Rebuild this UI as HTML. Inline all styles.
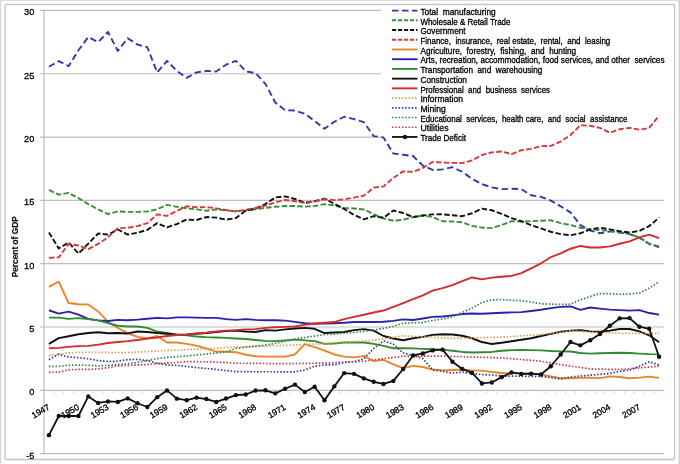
<!DOCTYPE html><html><head><meta charset="utf-8"><style>html,body{margin:0;padding:0;background:#fff;}svg{display:block;will-change:transform}</style></head><body>
<svg width="680" height="464" viewBox="0 0 680 464" font-family='"Liberation Sans", sans-serif'>
<rect x="0" y="0" width="680" height="464" fill="#fff"/>
<rect x="0" y="0" width="680" height="1" fill="#dcdcdc"/>
<rect x="0" y="0" width="1.2" height="464" fill="#d6d6d6"/>
<rect x="678.6" y="0" width="1.4" height="464" fill="#d0d0d0"/>
<rect x="5" y="4.5" width="669.6" height="455" rx="1.5" fill="none" stroke="#c4c4c4" stroke-width="1.3"/>
<line x1="40.0" y1="453.62" x2="664.0" y2="453.62" stroke="#bdbdbd" stroke-width="1.2"/>
<text x="34.3" y="458.51" font-size="9.2" text-anchor="end" fill="#000" stroke="#000" stroke-width="0.3">-5</text>
<line x1="40.0" y1="390.30" x2="664.0" y2="390.30" stroke="#bdbdbd" stroke-width="1.2"/>
<text x="34.3" y="395.20" font-size="9.2" text-anchor="end" fill="#000" stroke="#000" stroke-width="0.3">0</text>
<line x1="40.0" y1="326.99" x2="664.0" y2="326.99" stroke="#bdbdbd" stroke-width="1.2"/>
<text x="34.3" y="331.88" font-size="9.2" text-anchor="end" fill="#000" stroke="#000" stroke-width="0.3">5</text>
<line x1="40.0" y1="263.67" x2="664.0" y2="263.67" stroke="#bdbdbd" stroke-width="1.2"/>
<text x="34.3" y="268.57" font-size="9.2" text-anchor="end" fill="#000" stroke="#000" stroke-width="0.3">10</text>
<line x1="40.0" y1="200.36" x2="664.0" y2="200.36" stroke="#bdbdbd" stroke-width="1.2"/>
<text x="34.3" y="205.26" font-size="9.2" text-anchor="end" fill="#000" stroke="#000" stroke-width="0.3">15</text>
<line x1="40.0" y1="137.04" x2="381" y2="137.04" stroke="#bdbdbd" stroke-width="1.2"/>
<text x="34.3" y="141.94" font-size="9.2" text-anchor="end" fill="#000" stroke="#000" stroke-width="0.3">20</text>
<line x1="40.0" y1="73.73" x2="381" y2="73.73" stroke="#bdbdbd" stroke-width="1.2"/>
<text x="34.3" y="78.63" font-size="9.2" text-anchor="end" fill="#000" stroke="#000" stroke-width="0.3">25</text>
<line x1="40.0" y1="10.41" x2="381" y2="10.41" stroke="#bdbdbd" stroke-width="1.2"/>
<text x="34.3" y="15.31" font-size="9.2" text-anchor="end" fill="#000" stroke="#000" stroke-width="0.3">30</text>
<line x1="44.0" y1="9.81" x2="44.0" y2="454.22" stroke="#bdbdbd" stroke-width="1.2"/>
<line x1="44.00" y1="390.3" x2="44.00" y2="393.5" stroke="#c8c8c8" stroke-width="0.8"/>
<line x1="53.84" y1="390.3" x2="53.84" y2="393.5" stroke="#c8c8c8" stroke-width="0.8"/>
<line x1="63.68" y1="390.3" x2="63.68" y2="393.5" stroke="#c8c8c8" stroke-width="0.8"/>
<line x1="73.52" y1="390.3" x2="73.52" y2="393.5" stroke="#c8c8c8" stroke-width="0.8"/>
<line x1="83.37" y1="390.3" x2="83.37" y2="393.5" stroke="#c8c8c8" stroke-width="0.8"/>
<line x1="93.21" y1="390.3" x2="93.21" y2="393.5" stroke="#c8c8c8" stroke-width="0.8"/>
<line x1="103.05" y1="390.3" x2="103.05" y2="393.5" stroke="#c8c8c8" stroke-width="0.8"/>
<line x1="112.89" y1="390.3" x2="112.89" y2="393.5" stroke="#c8c8c8" stroke-width="0.8"/>
<line x1="122.73" y1="390.3" x2="122.73" y2="393.5" stroke="#c8c8c8" stroke-width="0.8"/>
<line x1="132.57" y1="390.3" x2="132.57" y2="393.5" stroke="#c8c8c8" stroke-width="0.8"/>
<line x1="142.41" y1="390.3" x2="142.41" y2="393.5" stroke="#c8c8c8" stroke-width="0.8"/>
<line x1="152.25" y1="390.3" x2="152.25" y2="393.5" stroke="#c8c8c8" stroke-width="0.8"/>
<line x1="162.10" y1="390.3" x2="162.10" y2="393.5" stroke="#c8c8c8" stroke-width="0.8"/>
<line x1="171.94" y1="390.3" x2="171.94" y2="393.5" stroke="#c8c8c8" stroke-width="0.8"/>
<line x1="181.78" y1="390.3" x2="181.78" y2="393.5" stroke="#c8c8c8" stroke-width="0.8"/>
<line x1="191.62" y1="390.3" x2="191.62" y2="393.5" stroke="#c8c8c8" stroke-width="0.8"/>
<line x1="201.46" y1="390.3" x2="201.46" y2="393.5" stroke="#c8c8c8" stroke-width="0.8"/>
<line x1="211.30" y1="390.3" x2="211.30" y2="393.5" stroke="#c8c8c8" stroke-width="0.8"/>
<line x1="221.14" y1="390.3" x2="221.14" y2="393.5" stroke="#c8c8c8" stroke-width="0.8"/>
<line x1="230.98" y1="390.3" x2="230.98" y2="393.5" stroke="#c8c8c8" stroke-width="0.8"/>
<line x1="240.83" y1="390.3" x2="240.83" y2="393.5" stroke="#c8c8c8" stroke-width="0.8"/>
<line x1="250.67" y1="390.3" x2="250.67" y2="393.5" stroke="#c8c8c8" stroke-width="0.8"/>
<line x1="260.51" y1="390.3" x2="260.51" y2="393.5" stroke="#c8c8c8" stroke-width="0.8"/>
<line x1="270.35" y1="390.3" x2="270.35" y2="393.5" stroke="#c8c8c8" stroke-width="0.8"/>
<line x1="280.19" y1="390.3" x2="280.19" y2="393.5" stroke="#c8c8c8" stroke-width="0.8"/>
<line x1="290.03" y1="390.3" x2="290.03" y2="393.5" stroke="#c8c8c8" stroke-width="0.8"/>
<line x1="299.87" y1="390.3" x2="299.87" y2="393.5" stroke="#c8c8c8" stroke-width="0.8"/>
<line x1="309.71" y1="390.3" x2="309.71" y2="393.5" stroke="#c8c8c8" stroke-width="0.8"/>
<line x1="319.56" y1="390.3" x2="319.56" y2="393.5" stroke="#c8c8c8" stroke-width="0.8"/>
<line x1="329.40" y1="390.3" x2="329.40" y2="393.5" stroke="#c8c8c8" stroke-width="0.8"/>
<line x1="339.24" y1="390.3" x2="339.24" y2="393.5" stroke="#c8c8c8" stroke-width="0.8"/>
<line x1="349.08" y1="390.3" x2="349.08" y2="393.5" stroke="#c8c8c8" stroke-width="0.8"/>
<line x1="358.92" y1="390.3" x2="358.92" y2="393.5" stroke="#c8c8c8" stroke-width="0.8"/>
<line x1="368.76" y1="390.3" x2="368.76" y2="393.5" stroke="#c8c8c8" stroke-width="0.8"/>
<line x1="378.60" y1="390.3" x2="378.60" y2="393.5" stroke="#c8c8c8" stroke-width="0.8"/>
<line x1="388.44" y1="390.3" x2="388.44" y2="393.5" stroke="#c8c8c8" stroke-width="0.8"/>
<line x1="398.29" y1="390.3" x2="398.29" y2="393.5" stroke="#c8c8c8" stroke-width="0.8"/>
<line x1="408.13" y1="390.3" x2="408.13" y2="393.5" stroke="#c8c8c8" stroke-width="0.8"/>
<line x1="417.97" y1="390.3" x2="417.97" y2="393.5" stroke="#c8c8c8" stroke-width="0.8"/>
<line x1="427.81" y1="390.3" x2="427.81" y2="393.5" stroke="#c8c8c8" stroke-width="0.8"/>
<line x1="437.65" y1="390.3" x2="437.65" y2="393.5" stroke="#c8c8c8" stroke-width="0.8"/>
<line x1="447.49" y1="390.3" x2="447.49" y2="393.5" stroke="#c8c8c8" stroke-width="0.8"/>
<line x1="457.33" y1="390.3" x2="457.33" y2="393.5" stroke="#c8c8c8" stroke-width="0.8"/>
<line x1="467.17" y1="390.3" x2="467.17" y2="393.5" stroke="#c8c8c8" stroke-width="0.8"/>
<line x1="477.02" y1="390.3" x2="477.02" y2="393.5" stroke="#c8c8c8" stroke-width="0.8"/>
<line x1="486.86" y1="390.3" x2="486.86" y2="393.5" stroke="#c8c8c8" stroke-width="0.8"/>
<line x1="496.70" y1="390.3" x2="496.70" y2="393.5" stroke="#c8c8c8" stroke-width="0.8"/>
<line x1="506.54" y1="390.3" x2="506.54" y2="393.5" stroke="#c8c8c8" stroke-width="0.8"/>
<line x1="516.38" y1="390.3" x2="516.38" y2="393.5" stroke="#c8c8c8" stroke-width="0.8"/>
<line x1="526.22" y1="390.3" x2="526.22" y2="393.5" stroke="#c8c8c8" stroke-width="0.8"/>
<line x1="536.06" y1="390.3" x2="536.06" y2="393.5" stroke="#c8c8c8" stroke-width="0.8"/>
<line x1="545.90" y1="390.3" x2="545.90" y2="393.5" stroke="#c8c8c8" stroke-width="0.8"/>
<line x1="555.75" y1="390.3" x2="555.75" y2="393.5" stroke="#c8c8c8" stroke-width="0.8"/>
<line x1="565.59" y1="390.3" x2="565.59" y2="393.5" stroke="#c8c8c8" stroke-width="0.8"/>
<line x1="575.43" y1="390.3" x2="575.43" y2="393.5" stroke="#c8c8c8" stroke-width="0.8"/>
<line x1="585.27" y1="390.3" x2="585.27" y2="393.5" stroke="#c8c8c8" stroke-width="0.8"/>
<line x1="595.11" y1="390.3" x2="595.11" y2="393.5" stroke="#c8c8c8" stroke-width="0.8"/>
<line x1="604.95" y1="390.3" x2="604.95" y2="393.5" stroke="#c8c8c8" stroke-width="0.8"/>
<line x1="614.79" y1="390.3" x2="614.79" y2="393.5" stroke="#c8c8c8" stroke-width="0.8"/>
<line x1="624.63" y1="390.3" x2="624.63" y2="393.5" stroke="#c8c8c8" stroke-width="0.8"/>
<line x1="634.48" y1="390.3" x2="634.48" y2="393.5" stroke="#c8c8c8" stroke-width="0.8"/>
<line x1="644.32" y1="390.3" x2="644.32" y2="393.5" stroke="#c8c8c8" stroke-width="0.8"/>
<line x1="654.16" y1="390.3" x2="654.16" y2="393.5" stroke="#c8c8c8" stroke-width="0.8"/>
<line x1="664.00" y1="390.3" x2="664.00" y2="393.5" stroke="#c8c8c8" stroke-width="0.8"/>
<text transform="translate(50.32,408.90) rotate(-30)" font-size="8.6" text-anchor="end" fill="#000" stroke="#000" stroke-width="0.3">1947</text>
<text transform="translate(79.84,408.90) rotate(-30)" font-size="8.6" text-anchor="end" fill="#000" stroke="#000" stroke-width="0.3">1950</text>
<text transform="translate(109.37,408.90) rotate(-30)" font-size="8.6" text-anchor="end" fill="#000" stroke="#000" stroke-width="0.3">1953</text>
<text transform="translate(138.89,408.90) rotate(-30)" font-size="8.6" text-anchor="end" fill="#000" stroke="#000" stroke-width="0.3">1956</text>
<text transform="translate(168.42,408.90) rotate(-30)" font-size="8.6" text-anchor="end" fill="#000" stroke="#000" stroke-width="0.3">1959</text>
<text transform="translate(197.94,408.90) rotate(-30)" font-size="8.6" text-anchor="end" fill="#000" stroke="#000" stroke-width="0.3">1962</text>
<text transform="translate(227.46,408.90) rotate(-30)" font-size="8.6" text-anchor="end" fill="#000" stroke="#000" stroke-width="0.3">1965</text>
<text transform="translate(256.99,408.90) rotate(-30)" font-size="8.6" text-anchor="end" fill="#000" stroke="#000" stroke-width="0.3">1968</text>
<text transform="translate(286.51,408.90) rotate(-30)" font-size="8.6" text-anchor="end" fill="#000" stroke="#000" stroke-width="0.3">1971</text>
<text transform="translate(316.03,408.90) rotate(-30)" font-size="8.6" text-anchor="end" fill="#000" stroke="#000" stroke-width="0.3">1974</text>
<text transform="translate(345.56,408.90) rotate(-30)" font-size="8.6" text-anchor="end" fill="#000" stroke="#000" stroke-width="0.3">1977</text>
<text transform="translate(375.08,408.90) rotate(-30)" font-size="8.6" text-anchor="end" fill="#000" stroke="#000" stroke-width="0.3">1980</text>
<text transform="translate(404.61,408.90) rotate(-30)" font-size="8.6" text-anchor="end" fill="#000" stroke="#000" stroke-width="0.3">1983</text>
<text transform="translate(434.13,408.90) rotate(-30)" font-size="8.6" text-anchor="end" fill="#000" stroke="#000" stroke-width="0.3">1986</text>
<text transform="translate(463.65,408.90) rotate(-30)" font-size="8.6" text-anchor="end" fill="#000" stroke="#000" stroke-width="0.3">1989</text>
<text transform="translate(493.18,408.90) rotate(-30)" font-size="8.6" text-anchor="end" fill="#000" stroke="#000" stroke-width="0.3">1992</text>
<text transform="translate(522.70,408.90) rotate(-30)" font-size="8.6" text-anchor="end" fill="#000" stroke="#000" stroke-width="0.3">1995</text>
<text transform="translate(552.23,408.90) rotate(-30)" font-size="8.6" text-anchor="end" fill="#000" stroke="#000" stroke-width="0.3">1998</text>
<text transform="translate(581.75,408.90) rotate(-30)" font-size="8.6" text-anchor="end" fill="#000" stroke="#000" stroke-width="0.3">2001</text>
<text transform="translate(611.27,408.90) rotate(-30)" font-size="8.6" text-anchor="end" fill="#000" stroke="#000" stroke-width="0.3">2004</text>
<text transform="translate(640.80,408.90) rotate(-30)" font-size="8.6" text-anchor="end" fill="#000" stroke="#000" stroke-width="0.3">2007</text>
<text transform="translate(17.6,246.8) rotate(-90)" font-size="8.4" font-weight="bold" text-anchor="middle" textLength="61" lengthAdjust="spacingAndGlyphs" fill="#111" stroke="#111" stroke-width="0.2">Percent of GDP</text>
<polyline points="48.92,66.76 58.76,61.06 68.60,66.13 78.44,50.30 88.29,37.00 98.13,42.07 107.97,31.94 117.81,50.93 127.65,38.27 137.49,44.60 147.33,47.13 157.17,72.46 167.02,60.81 176.86,70.94 186.70,77.90 196.54,72.33 206.38,70.94 216.22,71.45 226.06,64.73 235.90,60.81 245.75,71.19 255.59,73.22 265.43,83.86 275.27,102.47 285.11,110.32 294.95,110.57 304.79,113.74 314.63,120.96 324.48,128.81 334.32,121.84 344.16,116.78 354.00,119.06 363.84,122.10 373.68,136.15 383.52,137.42 393.37,153.50 403.21,154.77 413.05,156.03 422.89,165.66 432.73,169.96 442.57,169.33 452.41,167.18 462.25,171.74 472.10,178.83 481.94,184.15 491.78,187.31 501.62,189.08 511.46,188.71 521.30,189.08 531.14,195.29 540.98,196.81 550.83,200.61 560.67,206.31 570.51,212.38 580.35,225.05 590.19,230.49 600.03,233.28 609.87,231.38 619.71,232.65 629.56,234.17 639.40,237.71 649.24,244.04 659.08,247.21" fill="none" stroke="#3535b0" stroke-width="1.9" stroke-linejoin="round" stroke-dasharray="6.5 3.5"/>
<polyline points="48.92,189.97 58.76,194.66 68.60,192.88 78.44,198.08 88.29,204.15 98.13,209.35 107.97,214.03 117.81,211.37 127.65,211.88 137.49,211.88 147.33,211.50 157.17,209.35 167.02,204.91 176.86,206.81 186.70,208.46 196.54,209.35 206.38,210.74 216.22,209.35 226.06,210.49 235.90,211.12 245.75,210.49 255.59,209.22 265.43,207.83 275.27,206.81 285.11,206.05 294.95,206.05 304.79,206.69 314.63,206.05 324.48,204.15 334.32,205.29 344.16,207.95 354.00,208.46 363.84,209.47 373.68,214.16 383.52,218.46 393.37,220.74 403.21,219.73 413.05,217.07 422.89,215.55 432.73,217.07 442.57,221.25 452.41,221.50 462.25,222.26 472.10,225.93 481.94,227.58 491.78,228.09 501.62,225.05 511.46,221.25 521.30,221.50 531.14,221.25 540.98,220.74 550.83,220.24 560.67,223.15 570.51,225.05 580.35,227.71 590.19,229.35 600.03,230.11 609.87,230.87 619.71,232.27 629.56,233.79 639.40,237.46 649.24,243.79 659.08,246.32" fill="none" stroke="#3a8f3a" stroke-width="1.9" stroke-linejoin="round" stroke-dasharray="5.5 2.3"/>
<polyline points="48.92,232.39 58.76,248.47 68.60,242.40 78.44,253.54 88.29,243.66 98.13,233.53 107.97,234.67 117.81,229.48 127.65,234.55 137.49,232.77 147.33,229.86 157.17,223.15 167.02,227.45 176.86,224.03 186.70,219.60 196.54,219.98 206.38,217.07 216.22,217.58 226.06,219.60 235.90,218.08 245.75,210.74 255.59,208.46 265.43,204.15 275.27,197.44 285.11,196.43 294.95,198.96 304.79,202.89 314.63,201.24 324.48,198.71 334.32,203.77 344.16,208.97 354.00,214.92 363.84,219.35 373.68,216.18 383.52,217.83 393.37,210.49 403.21,213.02 413.05,217.07 422.89,215.55 432.73,214.41 442.57,214.28 452.41,215.30 462.25,216.18 472.10,213.27 481.94,208.59 491.78,210.23 501.62,213.90 511.46,218.08 521.30,221.25 531.14,225.05 540.98,228.47 550.83,231.76 560.67,234.17 570.51,235.18 580.35,233.28 590.19,229.35 600.03,227.71 609.87,229.35 619.71,231.25 629.56,232.52 639.40,230.87 649.24,226.06 659.08,217.58" fill="none" stroke="#111111" stroke-width="1.9" stroke-linejoin="round" stroke-dasharray="5.5 2.3"/>
<polyline points="48.92,257.85 58.76,257.34 68.60,244.04 78.44,245.44 88.29,249.23 98.13,243.92 107.97,237.33 117.81,228.21 127.65,227.83 137.49,226.06 147.33,223.15 157.17,214.41 167.02,215.93 176.86,210.74 186.70,206.31 196.54,207.32 206.38,207.07 216.22,208.33 226.06,209.98 235.90,211.50 245.75,209.73 255.59,207.83 265.43,205.67 275.27,202.38 285.11,199.98 294.95,201.24 304.79,202.89 314.63,201.62 324.48,199.09 334.32,200.10 344.16,199.34 354.00,197.57 363.84,195.67 373.68,187.57 383.52,186.43 393.37,177.81 403.21,171.36 413.05,171.86 422.89,167.94 432.73,161.86 442.57,162.62 452.41,162.87 462.25,163.13 472.10,160.34 481.94,155.02 491.78,152.36 501.62,151.48 511.46,154.14 521.30,150.21 531.14,148.82 540.98,146.16 550.83,145.90 560.67,141.60 570.51,135.01 580.35,125.26 590.19,125.77 600.03,127.92 609.87,132.73 619.71,129.19 629.56,127.92 639.40,129.70 649.24,127.92 659.08,115.64" fill="none" stroke="#d9383c" stroke-width="1.9" stroke-linejoin="round" stroke-dasharray="5.5 2.3"/>
<polyline points="48.92,286.84 58.76,281.65 68.60,303.05 78.44,304.19 88.29,304.57 98.13,311.41 107.97,321.67 117.81,328.00 127.65,333.06 137.49,336.86 147.33,338.51 157.17,335.98 167.02,342.56 176.86,342.56 186.70,343.83 196.54,345.60 206.38,348.51 216.22,351.55 226.06,351.80 235.90,352.18 245.75,354.72 255.59,356.24 265.43,356.62 275.27,356.62 285.11,356.62 294.95,354.46 304.79,344.08 314.63,347.12 324.48,350.66 334.32,354.46 344.16,356.62 354.00,357.38 363.84,355.86 373.68,361.18 383.52,359.91 393.37,364.34 403.21,368.14 413.05,365.86 422.89,367.00 432.73,369.53 442.57,370.42 452.41,370.04 462.25,369.53 472.10,370.42 481.94,370.67 491.78,371.94 501.62,372.95 511.46,373.20 521.30,373.20 531.14,373.71 540.98,374.47 550.83,376.37 560.67,378.27 570.51,378.27 580.35,377.89 590.19,377.64 600.03,378.14 609.87,376.37 619.71,377.00 629.56,378.27 639.40,377.64 649.24,376.62 659.08,377.89" fill="none" stroke="#e8842c" stroke-width="1.9" stroke-linejoin="round"/>
<polyline points="48.92,310.27 58.76,313.69 68.60,311.66 78.44,314.58 88.29,318.88 98.13,320.40 107.97,321.03 117.81,319.89 127.65,320.27 137.49,319.64 147.33,318.75 157.17,317.87 167.02,318.37 176.86,317.36 186.70,317.36 196.54,317.61 206.38,317.87 216.22,317.87 226.06,319.13 235.90,319.89 245.75,319.13 255.59,319.89 265.43,320.27 275.27,320.27 285.11,320.65 294.95,321.92 304.79,323.19 314.63,323.82 324.48,323.44 334.32,323.19 344.16,322.81 354.00,322.05 363.84,322.05 373.68,322.05 383.52,321.79 393.37,320.91 403.21,319.39 413.05,320.02 422.89,318.50 432.73,316.85 442.57,316.47 452.41,315.34 462.25,314.07 472.10,313.56 481.94,313.69 491.78,313.31 501.62,312.80 511.46,312.42 521.30,312.17 531.14,311.03 540.98,309.76 550.83,308.12 560.67,306.85 570.51,306.47 580.35,309.89 590.19,307.48 600.03,308.62 609.87,309.64 619.71,310.14 629.56,310.65 639.40,310.14 649.24,313.06 659.08,314.58" fill="none" stroke="#2c22aa" stroke-width="1.9" stroke-linejoin="round"/>
<polyline points="48.92,317.61 58.76,317.61 68.60,318.88 78.44,318.12 88.29,319.13 98.13,320.40 107.97,323.06 117.81,325.72 127.65,326.48 137.49,326.48 147.33,327.87 157.17,331.54 167.02,333.06 176.86,334.58 186.70,335.34 196.54,336.48 206.38,337.12 216.22,337.50 226.06,337.88 235.90,338.51 245.75,339.01 255.59,340.03 265.43,340.91 275.27,341.17 285.11,340.41 294.95,339.65 304.79,340.41 314.63,341.17 324.48,343.83 334.32,343.45 344.16,342.56 354.00,342.56 363.84,342.56 373.68,343.83 383.52,345.85 393.37,348.26 403.21,348.13 413.05,348.39 422.89,348.89 432.73,349.27 442.57,349.65 452.41,350.79 462.25,351.93 472.10,352.56 481.94,352.31 491.78,351.93 501.62,350.79 511.46,350.16 521.30,349.91 531.14,350.16 540.98,350.41 550.83,351.04 560.67,351.42 570.51,351.55 580.35,352.94 590.19,353.58 600.03,353.32 609.87,352.94 619.71,352.69 629.56,352.94 639.40,353.58 649.24,354.08 659.08,354.34" fill="none" stroke="#2f8c2f" stroke-width="1.9" stroke-linejoin="round"/>
<polyline points="48.92,343.83 58.76,338.13 68.60,336.23 78.44,334.20 88.29,332.94 98.13,332.30 107.97,333.19 117.81,333.06 127.65,333.44 137.49,331.54 147.33,332.05 157.17,333.06 167.02,333.82 176.86,334.58 186.70,334.33 196.54,333.70 206.38,333.06 216.22,332.05 226.06,331.16 235.90,330.66 245.75,331.54 255.59,332.05 265.43,330.15 275.27,330.66 285.11,329.39 294.95,328.50 304.79,327.87 314.63,328.76 324.48,333.06 334.32,332.43 344.16,332.05 354.00,330.15 363.84,329.14 373.68,330.66 383.52,335.98 393.37,338.51 403.21,340.28 413.05,338.26 422.89,336.86 432.73,334.84 442.57,334.20 452.41,334.46 462.25,335.72 472.10,338.26 481.94,342.05 491.78,343.95 501.62,342.81 511.46,341.29 521.30,339.77 531.14,338.26 540.98,335.98 550.83,333.82 560.67,331.80 570.51,330.66 580.35,330.15 590.19,331.42 600.03,331.80 609.87,330.66 619.71,329.01 629.56,329.01 639.40,331.42 649.24,335.34 659.08,342.31" fill="none" stroke="#111111" stroke-width="1.9" stroke-linejoin="round"/>
<polyline points="48.92,348.26 58.76,347.88 68.60,346.87 78.44,346.11 88.29,345.85 98.13,344.59 107.97,342.94 117.81,341.93 127.65,341.17 137.49,340.03 147.33,338.51 157.17,337.50 167.02,335.98 176.86,334.96 186.70,334.58 196.54,333.44 206.38,332.68 216.22,331.54 226.06,330.66 235.90,330.15 245.75,329.39 255.59,329.14 265.43,327.87 275.27,327.24 285.11,326.86 294.95,326.48 304.79,324.83 314.63,323.44 324.48,322.81 334.32,322.05 344.16,319.13 354.00,316.85 363.84,314.70 373.68,312.55 383.52,310.52 393.37,306.98 403.21,303.18 413.05,299.13 422.89,295.45 432.73,290.64 442.57,288.11 452.41,285.07 462.25,281.14 472.10,277.47 481.94,279.37 491.78,277.60 501.62,276.71 511.46,275.95 521.30,273.04 531.14,268.36 540.98,263.29 550.83,257.21 560.67,253.41 570.51,248.73 580.35,245.94 590.19,247.46 600.03,247.46 609.87,246.32 619.71,243.79 629.56,241.38 639.40,237.46 649.24,234.67 659.08,238.22" fill="none" stroke="#d22c2c" stroke-width="1.9" stroke-linejoin="round"/>
<polyline points="48.92,355.48 58.76,354.21 68.60,352.94 78.44,352.31 88.29,352.36 98.13,352.41 107.97,352.46 117.81,352.51 127.65,352.56 137.49,352.06 147.33,351.55 157.17,351.04 167.02,350.54 176.86,350.09 186.70,349.65 196.54,349.21 206.38,348.77 216.22,348.17 226.06,347.58 235.90,346.99 245.75,346.67 255.59,346.34 265.43,346.02 275.27,345.69 285.11,345.36 294.95,345.04 304.79,344.71 314.63,344.10 324.48,343.48 334.32,342.87 344.16,342.25 354.00,341.64 363.84,341.02 373.68,340.41 383.52,338.89 393.37,337.37 403.21,335.85 413.05,336.36 422.89,336.86 432.73,337.37 442.57,337.88 452.41,338.38 462.25,338.13 472.10,337.88 481.94,337.62 491.78,337.37 501.62,337.12 511.46,336.48 521.30,335.85 531.14,335.22 540.98,334.58 550.83,333.32 560.67,332.05 570.51,330.78 580.35,331.42 590.19,332.05 600.03,332.47 609.87,332.89 619.71,333.32 629.56,333.32 639.40,333.32 649.24,333.32 659.08,333.32" fill="none" stroke="#d8a050" stroke-width="1.7" stroke-linejoin="round" stroke-dasharray="1.5 1.8"/>
<polyline points="48.92,359.66 58.76,354.34 68.60,357.00 78.44,357.63 88.29,358.77 98.13,360.54 107.97,361.55 117.81,361.18 127.65,359.66 137.49,359.40 147.33,360.54 157.17,363.20 167.02,364.97 176.86,365.35 186.70,366.37 196.54,367.63 206.38,368.52 216.22,369.41 226.06,370.55 235.90,371.69 245.75,371.71 255.59,371.73 265.43,371.75 275.27,371.77 285.11,371.79 294.95,371.81 304.79,370.04 314.63,366.24 324.48,364.97 334.32,364.97 344.16,362.44 354.00,361.81 363.84,358.64 373.68,348.51 383.52,340.91 393.37,344.08 403.21,352.94 413.05,355.48 422.89,358.64 432.73,370.04 442.57,371.31 452.41,373.20 462.25,371.94 472.10,373.84 481.94,374.47 491.78,375.10 501.62,375.99 511.46,376.12 521.30,376.24 531.14,376.37 540.98,376.50 550.83,377.64 560.67,379.03 570.51,377.00 580.35,376.12 590.19,375.23 600.03,374.34 609.87,373.46 619.71,371.31 629.56,370.04 639.40,366.24 649.24,361.81 659.08,364.97" fill="none" stroke="#35359a" stroke-width="1.7" stroke-linejoin="round" stroke-dasharray="1.5 1.8"/>
<polyline points="48.92,366.37 58.76,366.37 68.60,365.35 78.44,364.97 88.29,365.35 98.13,365.86 107.97,365.35 117.81,364.59 127.65,363.71 137.49,362.44 147.33,360.54 157.17,358.64 167.02,357.38 176.86,356.62 186.70,355.86 196.54,354.97 206.38,354.08 216.22,352.94 226.06,351.93 235.90,348.51 245.75,347.25 255.59,346.17 265.43,345.09 275.27,343.45 285.11,341.23 294.95,339.01 304.79,337.54 314.63,336.06 324.48,334.58 334.32,333.87 344.16,333.15 354.00,332.43 363.84,331.29 373.68,330.15 383.52,328.31 393.37,326.48 403.21,323.19 413.05,322.87 422.89,322.55 432.73,320.40 442.57,319.01 452.41,316.85 462.25,312.42 472.10,307.99 481.94,302.42 491.78,300.01 501.62,299.51 511.46,300.27 521.30,300.65 531.14,302.04 540.98,303.81 550.83,304.06 560.67,304.44 570.51,304.19 580.35,299.76 590.19,296.59 600.03,293.55 609.87,293.55 619.71,294.31 629.56,293.93 639.40,293.05 649.24,288.11 659.08,281.78" fill="none" stroke="#33804f" stroke-width="1.7" stroke-linejoin="round" stroke-dasharray="1.5 1.8"/>
<polyline points="48.92,372.45 58.76,372.07 68.60,369.91 78.44,369.41 88.29,369.41 98.13,368.90 107.97,367.63 117.81,365.86 127.65,365.35 137.49,364.97 147.33,364.59 157.17,363.71 167.02,362.95 176.86,362.44 186.70,361.55 196.54,361.68 206.38,361.81 216.22,362.19 226.06,362.44 235.90,363.20 245.75,363.30 255.59,363.40 265.43,363.51 275.27,363.61 285.11,363.71 294.95,363.55 304.79,363.39 314.63,363.23 324.48,363.07 334.32,362.60 344.16,362.12 354.00,361.65 363.84,361.18 373.68,359.91 383.52,358.64 393.37,357.38 403.21,356.11 413.05,356.11 422.89,356.11 432.73,356.11 442.57,356.11 452.41,356.41 462.25,356.70 472.10,357.00 481.94,357.29 491.78,357.59 501.62,357.88 511.46,358.71 521.30,359.53 531.14,360.35 540.98,361.18 550.83,362.95 560.67,364.72 570.51,366.11 580.35,367.51 590.19,368.90 600.03,369.11 609.87,369.32 619.71,369.53 629.56,368.71 639.40,367.89 649.24,367.06 659.08,366.24" fill="none" stroke="#c83450" stroke-width="1.7" stroke-linejoin="round" stroke-dasharray="1.5 1.8"/>
<polyline points="48.92,435.13 58.76,416.01 68.60,416.01 78.44,416.01 88.29,396.38 98.13,402.96 107.97,401.44 117.81,401.95 127.65,398.40 137.49,403.22 147.33,407.02 157.17,397.14 167.02,390.43 176.86,398.66 186.70,400.18 196.54,397.64 206.38,399.04 216.22,401.95 226.06,398.53 235.90,395.11 245.75,394.48 255.59,390.55 265.43,390.30 275.27,393.34 285.11,388.78 294.95,384.60 304.79,392.07 314.63,386.75 324.48,400.30 334.32,386.37 344.16,373.08 354.00,373.84 363.84,378.40 373.68,381.82 383.52,383.97 393.37,380.93 403.21,369.03 413.05,355.48 422.89,353.45 432.73,350.41 442.57,349.65 452.41,361.68 462.25,368.90 472.10,372.95 481.94,383.46 491.78,382.45 501.62,377.13 511.46,372.45 521.30,373.96 531.14,373.71 540.98,374.47 550.83,366.24 560.67,354.46 570.51,342.05 580.35,345.35 590.19,340.28 600.03,333.95 609.87,325.72 619.71,318.37 629.56,318.12 639.40,326.73 649.24,328.76 659.08,356.74" fill="none" stroke="#111111" stroke-width="1.8" stroke-linejoin="round"/>
<circle cx="48.92" cy="435.13" r="2.2" fill="#111111"/>
<circle cx="58.76" cy="416.01" r="2.2" fill="#111111"/>
<circle cx="68.60" cy="416.01" r="2.2" fill="#111111"/>
<circle cx="78.44" cy="416.01" r="2.2" fill="#111111"/>
<circle cx="88.29" cy="396.38" r="2.2" fill="#111111"/>
<circle cx="98.13" cy="402.96" r="2.2" fill="#111111"/>
<circle cx="107.97" cy="401.44" r="2.2" fill="#111111"/>
<circle cx="117.81" cy="401.95" r="2.2" fill="#111111"/>
<circle cx="127.65" cy="398.40" r="2.2" fill="#111111"/>
<circle cx="137.49" cy="403.22" r="2.2" fill="#111111"/>
<circle cx="147.33" cy="407.02" r="2.2" fill="#111111"/>
<circle cx="157.17" cy="397.14" r="2.2" fill="#111111"/>
<circle cx="167.02" cy="390.43" r="2.2" fill="#111111"/>
<circle cx="176.86" cy="398.66" r="2.2" fill="#111111"/>
<circle cx="186.70" cy="400.18" r="2.2" fill="#111111"/>
<circle cx="196.54" cy="397.64" r="2.2" fill="#111111"/>
<circle cx="206.38" cy="399.04" r="2.2" fill="#111111"/>
<circle cx="216.22" cy="401.95" r="2.2" fill="#111111"/>
<circle cx="226.06" cy="398.53" r="2.2" fill="#111111"/>
<circle cx="235.90" cy="395.11" r="2.2" fill="#111111"/>
<circle cx="245.75" cy="394.48" r="2.2" fill="#111111"/>
<circle cx="255.59" cy="390.55" r="2.2" fill="#111111"/>
<circle cx="265.43" cy="390.30" r="2.2" fill="#111111"/>
<circle cx="275.27" cy="393.34" r="2.2" fill="#111111"/>
<circle cx="285.11" cy="388.78" r="2.2" fill="#111111"/>
<circle cx="294.95" cy="384.60" r="2.2" fill="#111111"/>
<circle cx="304.79" cy="392.07" r="2.2" fill="#111111"/>
<circle cx="314.63" cy="386.75" r="2.2" fill="#111111"/>
<circle cx="324.48" cy="400.30" r="2.2" fill="#111111"/>
<circle cx="334.32" cy="386.37" r="2.2" fill="#111111"/>
<circle cx="344.16" cy="373.08" r="2.2" fill="#111111"/>
<circle cx="354.00" cy="373.84" r="2.2" fill="#111111"/>
<circle cx="363.84" cy="378.40" r="2.2" fill="#111111"/>
<circle cx="373.68" cy="381.82" r="2.2" fill="#111111"/>
<circle cx="383.52" cy="383.97" r="2.2" fill="#111111"/>
<circle cx="393.37" cy="380.93" r="2.2" fill="#111111"/>
<circle cx="403.21" cy="369.03" r="2.2" fill="#111111"/>
<circle cx="413.05" cy="355.48" r="2.2" fill="#111111"/>
<circle cx="422.89" cy="353.45" r="2.2" fill="#111111"/>
<circle cx="432.73" cy="350.41" r="2.2" fill="#111111"/>
<circle cx="442.57" cy="349.65" r="2.2" fill="#111111"/>
<circle cx="452.41" cy="361.68" r="2.2" fill="#111111"/>
<circle cx="462.25" cy="368.90" r="2.2" fill="#111111"/>
<circle cx="472.10" cy="372.95" r="2.2" fill="#111111"/>
<circle cx="481.94" cy="383.46" r="2.2" fill="#111111"/>
<circle cx="491.78" cy="382.45" r="2.2" fill="#111111"/>
<circle cx="501.62" cy="377.13" r="2.2" fill="#111111"/>
<circle cx="511.46" cy="372.45" r="2.2" fill="#111111"/>
<circle cx="521.30" cy="373.96" r="2.2" fill="#111111"/>
<circle cx="531.14" cy="373.71" r="2.2" fill="#111111"/>
<circle cx="540.98" cy="374.47" r="2.2" fill="#111111"/>
<circle cx="550.83" cy="366.24" r="2.2" fill="#111111"/>
<circle cx="560.67" cy="354.46" r="2.2" fill="#111111"/>
<circle cx="570.51" cy="342.05" r="2.2" fill="#111111"/>
<circle cx="580.35" cy="345.35" r="2.2" fill="#111111"/>
<circle cx="590.19" cy="340.28" r="2.2" fill="#111111"/>
<circle cx="600.03" cy="333.95" r="2.2" fill="#111111"/>
<circle cx="609.87" cy="325.72" r="2.2" fill="#111111"/>
<circle cx="619.71" cy="318.37" r="2.2" fill="#111111"/>
<circle cx="629.56" cy="318.12" r="2.2" fill="#111111"/>
<circle cx="639.40" cy="326.73" r="2.2" fill="#111111"/>
<circle cx="649.24" cy="328.76" r="2.2" fill="#111111"/>
<circle cx="659.08" cy="356.74" r="2.2" fill="#111111"/>
<line x1="392" y1="10.60" x2="417.5" y2="10.60" stroke="#3535b0" stroke-width="1.9" stroke-dasharray="6.5 3.5"/>
<text x="420.4" y="14.80" font-size="9.5" fill="#000" stroke="#000" stroke-width="0.32" textLength="75.3" lengthAdjust="spacingAndGlyphs" xml:space="preserve">Total  manufacturing</text>
<line x1="392" y1="20.32" x2="417.5" y2="20.32" stroke="#3a8f3a" stroke-width="1.9" stroke-dasharray="4.2 1.8"/>
<text x="420.4" y="24.52" font-size="9.5" fill="#000" stroke="#000" stroke-width="0.32" textLength="90.1" lengthAdjust="spacingAndGlyphs" xml:space="preserve">Wholesale &amp; Retail Trade</text>
<line x1="392" y1="30.04" x2="417.5" y2="30.04" stroke="#111111" stroke-width="1.9" stroke-dasharray="4.2 1.8"/>
<text x="420.4" y="34.24" font-size="9.5" fill="#000" stroke="#000" stroke-width="0.32" textLength="45.2" lengthAdjust="spacingAndGlyphs" xml:space="preserve">Government</text>
<line x1="392" y1="39.76" x2="417.5" y2="39.76" stroke="#d9383c" stroke-width="1.9" stroke-dasharray="4.2 1.8"/>
<text x="420.4" y="43.96" font-size="9.5" fill="#000" stroke="#000" stroke-width="0.32" textLength="189.9" lengthAdjust="spacingAndGlyphs" xml:space="preserve">Finance,  insurance,  real estate,  rental,  and  leasing</text>
<line x1="392" y1="49.48" x2="417.5" y2="49.48" stroke="#e8842c" stroke-width="1.9"/>
<text x="420.4" y="53.68" font-size="9.5" fill="#000" stroke="#000" stroke-width="0.32" textLength="155.8" lengthAdjust="spacingAndGlyphs" xml:space="preserve">Agriculture,  forestry,  fishing,  and  hunting</text>
<line x1="392" y1="59.20" x2="417.5" y2="59.20" stroke="#2c22aa" stroke-width="1.9"/>
<text x="420.4" y="63.40" font-size="9.5" fill="#000" stroke="#000" stroke-width="0.32" textLength="244.1" lengthAdjust="spacingAndGlyphs" xml:space="preserve">Arts, recreation, accommodation, food services, and other  services</text>
<line x1="392" y1="68.92" x2="417.5" y2="68.92" stroke="#2f8c2f" stroke-width="1.9"/>
<text x="420.4" y="73.12" font-size="9.5" fill="#000" stroke="#000" stroke-width="0.32" textLength="121.9" lengthAdjust="spacingAndGlyphs" xml:space="preserve">Transportation  and  warehousing</text>
<line x1="392" y1="78.64" x2="417.5" y2="78.64" stroke="#111111" stroke-width="1.9"/>
<text x="420.4" y="82.84" font-size="9.5" fill="#000" stroke="#000" stroke-width="0.32" textLength="46.6" lengthAdjust="spacingAndGlyphs" xml:space="preserve">Construction</text>
<line x1="392" y1="88.36" x2="417.5" y2="88.36" stroke="#d22c2c" stroke-width="1.9"/>
<text x="420.4" y="92.56" font-size="9.5" fill="#000" stroke="#000" stroke-width="0.32" textLength="129.6" lengthAdjust="spacingAndGlyphs" xml:space="preserve">Professional  and  business  services</text>
<line x1="392" y1="98.08" x2="417.5" y2="98.08" stroke="#d8a050" stroke-width="1.7" stroke-dasharray="1.5 1.8"/>
<text x="420.4" y="102.28" font-size="9.5" fill="#000" stroke="#000" stroke-width="0.32" textLength="42.6" lengthAdjust="spacingAndGlyphs" xml:space="preserve">Information</text>
<line x1="392" y1="107.80" x2="417.5" y2="107.80" stroke="#35359a" stroke-width="1.7" stroke-dasharray="1.5 1.8"/>
<text x="420.4" y="112.00" font-size="9.5" fill="#000" stroke="#000" stroke-width="0.32" textLength="25.3" lengthAdjust="spacingAndGlyphs" xml:space="preserve">Mining</text>
<line x1="392" y1="117.52" x2="417.5" y2="117.52" stroke="#33804f" stroke-width="1.7" stroke-dasharray="1.5 1.8"/>
<text x="420.4" y="121.72" font-size="9.5" fill="#000" stroke="#000" stroke-width="0.32" textLength="207.1" lengthAdjust="spacingAndGlyphs" xml:space="preserve">Educational  services,  health care,  and  social  assistance</text>
<line x1="392" y1="127.24" x2="417.5" y2="127.24" stroke="#c83450" stroke-width="1.7" stroke-dasharray="1.5 1.8"/>
<text x="420.4" y="131.44" font-size="9.5" fill="#000" stroke="#000" stroke-width="0.32" textLength="28.2" lengthAdjust="spacingAndGlyphs" xml:space="preserve">Utilities</text>
<line x1="392" y1="136.96" x2="417.5" y2="136.96" stroke="#111111" stroke-width="1.8"/>
<circle cx="405" cy="136.96" r="2.2" fill="#111111"/>
<text x="420.4" y="141.16" font-size="9.5" fill="#000" stroke="#000" stroke-width="0.32" textLength="45.6" lengthAdjust="spacingAndGlyphs" xml:space="preserve">Trade Deficit</text>
</svg></body></html>
